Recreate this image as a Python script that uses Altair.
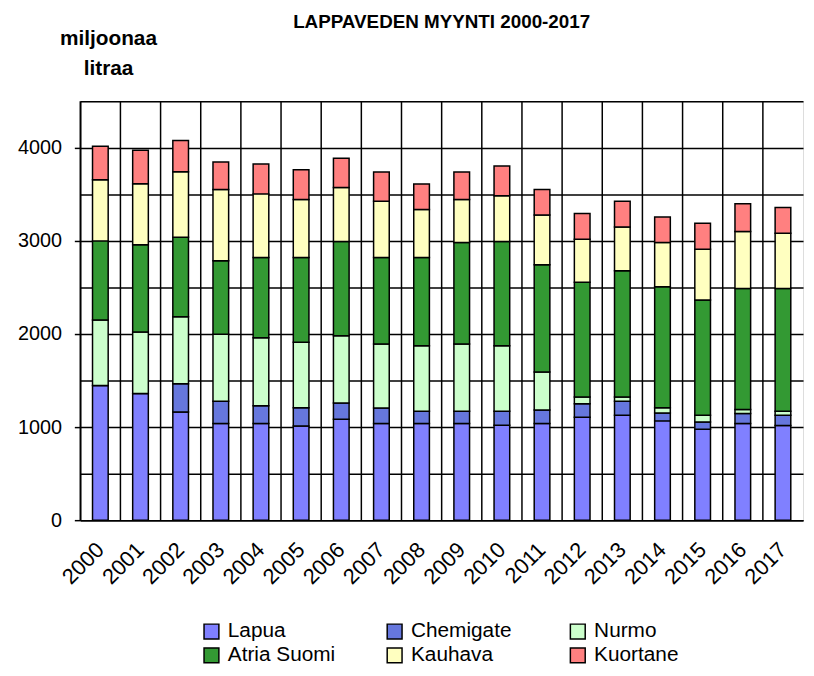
import altair as alt
import pandas as pd

years = [str(y) for y in range(2000, 2018)]
series = ["Lapua", "Chemigate", "Nurmo", "Atria Suomi", "Kauhava", "Kuortane"]
colors = ["#8080FF", "#6677DD", "#CCFFCC", "#339933", "#FFFFC0", "#FF8080"]

lapua = [1447, 1362, 1163, 1038, 1038, 1013, 1085, 1038, 1038, 1038, 1021, 1038, 1106, 1127, 1067, 978, 1038, 1017]
chemigate = [0, 0, 302, 239, 192, 196, 174, 167, 132, 132, 149, 146, 146, 150, 85, 78, 107, 110]
nurmo = [704, 661, 722, 721, 729, 704, 722, 687, 704, 722, 704, 409, 71, 46, 57, 71, 43, 43]
atria = [850, 936, 853, 790, 864, 910, 1013, 931, 949, 1091, 1120, 1152, 1234, 1358, 1298, 1238, 1301, 1319]
kauhava = [658, 657, 705, 764, 683, 623, 580, 605, 516, 463, 491, 534, 462, 470, 476, 547, 612, 594]
kuortane = [359, 360, 334, 296, 320, 320, 316, 313, 274, 295, 320, 273, 277, 277, 274, 278, 299, 277]

y_ticks = list(range(0, 4501, 500))

values = [lapua, chemigate, nurmo, atria, kauhava, kuortane]
rows = []
for si, (name, vals) in enumerate(zip(series, values)):
    for yr, v in zip(years, vals):
        rows.append({"year": yr, "series": name, "value": v, "idx": si})
df = pd.DataFrame(rows)
grid_df = pd.DataFrame({"year": years})

FONT = "Liberation Sans"
W, H = 730, 423

xscale = alt.Scale(domain=years, paddingInner=0, paddingOuter=0)
x_axis = alt.Axis(
    labelAngle=-45,
    labelAlign="right",
    labelBaseline="middle",
    labelFont=FONT,
    labelFontSize=22,
    labelColor="black",
    labelPadding=26,
    ticks=False,
    grid=False,
    domainColor="black",
    domainWidth=1.5,
    title=None,
)

vgrid = alt.Chart(grid_df).mark_rule(color="black", strokeWidth=1.5).encode(
    x=alt.X("year:N", scale=xscale, bandPosition=0, axis=x_axis),
    y=alt.value(0),
    y2=alt.value(H),
)

bars = alt.Chart(df).mark_bar(
    stroke="black", strokeWidth=1.5, width=alt.RelativeBandSize(0.39)
).encode(
    x=alt.X("year:N", scale=xscale, axis=x_axis),
    y=alt.Y(
        "value:Q",
        stack="zero",
        scale=alt.Scale(domain=[0, 4500], nice=False),
        axis=alt.Axis(
            values=y_ticks,
            format="d",
            labelExpr="datum.value % 1000 === 0 ? datum.label : ''",
            labelFont=FONT,
            labelFontSize=20,
            labelColor="black",
            labelPadding=13,
            tickSize=6,
            tickColor="black",
            tickWidth=1.5,
            tickOpacity={"condition": {"test": "datum.value % 1000 === 0", "value": 1}, "value": 0},
            grid=True,
            gridColor="black",
            gridWidth=1.5,
            gridOpacity=1,
            domainColor="black",
            domainWidth=1.5,
            title=["miljoonaa", "litraa"],
            titleAngle=0,
            titleAlign="center",
            titleBaseline="alphabetic",
            titleX=28,
            titleY=-57,
            titleLineHeight=30,
            titleFont=FONT,
            titleFontSize=21,
            titleFontWeight="bold",
            titleColor="black",
        ),
    ),
    color=alt.Color(
        "series:N",
        scale=alt.Scale(domain=series, range=colors),
        legend=alt.Legend(
            title=None,
            orient="none",
            legendX=122,
            legendY=525,
            columns=3,
            direction="horizontal",
            gridAlign="all",
            columnPadding=49,
            rowPadding=2,
            symbolType="square",
            symbolSize=225,
            symbolStrokeColor="black",
            symbolStrokeWidth=1.5,
            symbolOpacity=1,
            labelFont=FONT,
            labelFontSize=21,
            labelColor="black",
            labelOffset=6,
        ),
    ),
    order=alt.Order("idx:Q", sort="ascending"),
)

chart = alt.layer(vgrid, bars).properties(
    width=W,
    height=H,
    title=alt.TitleParams(
        "LAPPAVEDEN MYYNTI 2000-2017",
        font=FONT,
        fontSize=19,
        fontWeight="bold",
        color="black",
        anchor="middle",
        offset=0,
        dy=4,
    ),
    autosize=alt.AutoSizeParams(type="none"),
    padding={"left": 73, "top": 91, "right": 3, "bottom": 146},
).configure_view(stroke=None).configure(background="white")

chart.save("out.html", embed_options={"renderer": "svg", "actions": False})
